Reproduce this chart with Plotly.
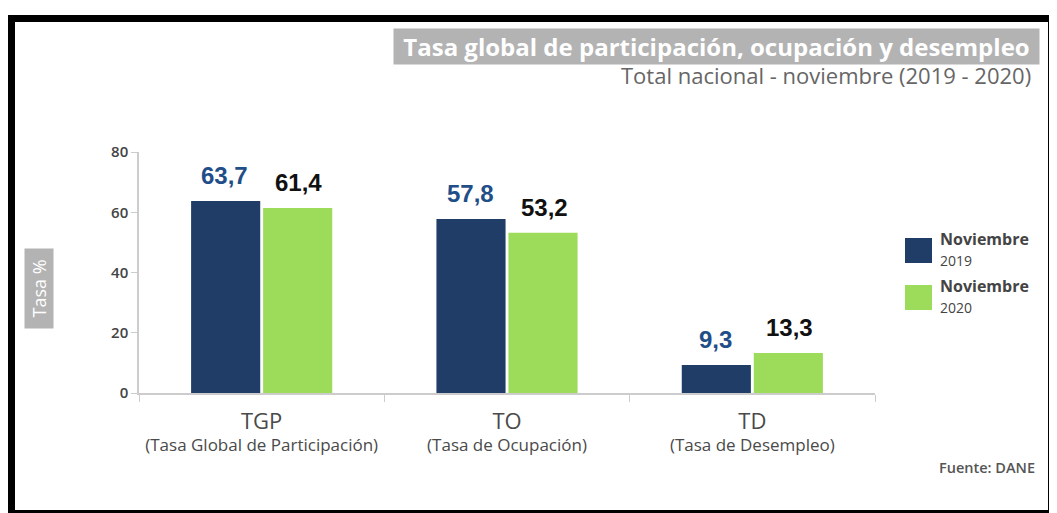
import plotly.graph_objects as go

# ---- data ----
categories = ["TGP", "TO", "TD"]
category_desc = ["(Tasa Global de Participación)", "(Tasa de Ocupación)", "(Tasa de Desempleo)"]
values_2019 = [63.7, 57.8, 9.3]
values_2020 = [61.4, 53.2, 13.3]
series_names = ["Noviembre 2019", "Noviembre 2020"]
y_ticks = [0, 20, 40, 60, 80]

BLUE = "#1f3d66"
GREEN = "#9ddb5a"
BLUE_TXT = "#1f4e88"

# page body has an 8px margin, so the figure is slightly smaller than the window
OFF = 8
W, H = 1057 - OFF, 513 - OFF
ML, MR, MT, MB = 131, 182, 144, 120
PW = W - ML - MR
PH = H - MT - MB


def px(x):
    """reference-window x pixel -> paper coordinate"""
    return (x - OFF - ML) / PW


def py(y):
    """reference-window y pixel -> paper coordinate"""
    return (H - MB - (y - OFF)) / PH


fig = go.Figure()
fig.add_trace(go.Bar(x=categories, y=values_2019, name=series_names[0],
                     marker=dict(color=BLUE, line=dict(width=0)), showlegend=False))
fig.add_trace(go.Bar(x=categories, y=values_2020, name=series_names[1],
                     marker=dict(color=GREEN, line=dict(width=0)), showlegend=False))

annotations = []
# value labels
for cat, v in zip(categories, values_2019):
    annotations.append(dict(x=cat, y=v, xref="x", yref="y", xshift=-37, yshift=10,
                            text=f"{v:.1f}".replace(".", ","), showarrow=False,
                            yanchor="bottom",
                            font=dict(family="Liberation Sans", size=24, color=BLUE_TXT, weight="bold")))
for cat, v in zip(categories, values_2020):
    annotations.append(dict(x=cat, y=v, xref="x", yref="y", xshift=37, yshift=10,
                            text=f"{v:.1f}".replace(".", ","), showarrow=False,
                            yanchor="bottom",
                            font=dict(family="Liberation Sans", size=24, color="#111111", weight="bold")))

# title
annotations.append(dict(x=px(1040), y=py(46), xref="paper", yref="paper",
                        xanchor="right", yanchor="middle", showarrow=False,
                        text="Tasa global de participación, ocupación y desempleo",
                        bgcolor="#b3b3b3", borderpad=1, width=643, align="center",
                        font=dict(family="Open Sans", size=24, color="white", weight="bold")))
annotations.append(dict(x=px(1033), y=py(75), xref="paper", yref="paper",
                        xanchor="right", yanchor="middle", showarrow=False,
                        text="Total nacional - noviembre (2019 - 2020)",
                        font=dict(family="Open Sans", size=22, color="#666666")))
# y title
annotations.append(dict(x=px(38.5), y=py(288.5), xref="paper", yref="paper",
                        xanchor="center", yanchor="middle", showarrow=False,
                        text="Tasa %", textangle=-90, bgcolor="#b3b3b3",
                        width=75, height=24, borderpad=2,
                        font=dict(family="Open Sans", size=18, color="white")))
# legend (drawn manually)
legend_cols = [BLUE, GREEN]
legend_tops = [238, 285]
shapes = []
for name, col, top in zip(series_names, legend_cols, legend_tops):
    shapes.append(dict(type="rect", xref="paper", yref="paper",
                       x0=px(905), x1=px(932), y0=py(top), y1=py(top + 25),
                       fillcolor=col, line=dict(width=0)))
    word, year = name.split(" ")
    annotations.append(dict(x=px(938), y=py(top - 12), xref="paper", yref="paper",
                            xanchor="left", yanchor="top", showarrow=False, align="left",
                            text=f"<b>{word}</b><br><span style='font-size:14px'>{year}</span>",
                            font=dict(family="Open Sans", size=16, color="#444444")))
# source
annotations.append(dict(x=px(1037), y=py(467), xref="paper", yref="paper",
                        xanchor="right", yanchor="middle", showarrow=False,
                        text="Fuente: DANE",
                        font=dict(family="Open Sans", size=14.5, color="#555555", weight=600)))

# frame
shapes += [
    dict(type="rect", xref="paper", yref="paper", x0=px(8), x1=px(1057), y0=py(22), y1=py(15),
         fillcolor="black", line=dict(width=0)),
    dict(type="rect", xref="paper", yref="paper", x0=px(8), x1=px(15), y0=py(513), y1=py(15),
         fillcolor="black", line=dict(width=0)),
    dict(type="rect", xref="paper", yref="paper", x0=px(1048), x1=px(1057), y0=py(513), y1=py(15),
         fillcolor="black", line=dict(width=0)),
    dict(type="rect", xref="paper", yref="paper", x0=px(8), x1=px(1057), y0=py(513), y1=py(510),
         fillcolor="black", line=dict(width=0)),
]

tick_text = [f"<span style='font-size:22px'>{c}</span><br><span style='font-size:17px'>{d}</span>"
             for c, d in zip(categories, category_desc)]

fig.update_layout(
    width=W, height=H,
    margin=dict(l=ML, r=MR, t=MT, b=MB, autoexpand=False),
    paper_bgcolor="white", plot_bgcolor="white",
    barmode="group", bargap=0.413, bargroupgap=0.04,
    font=dict(family="Open Sans", color="#444444"),
    annotations=annotations, shapes=shapes,
    showlegend=False,
    xaxis=dict(tickmode="array", tickvals=categories, ticktext=tick_text,
               tickson="boundaries", ticks="outside", ticklen=7, tickcolor="#cccccc",
               ticklabelstandoff=14, tickangle=0, automargin=False,
               showline=True, linecolor="#cccccc", linewidth=1.5,
               tickfont=dict(family="Open Sans", size=17, color="#4a4a4a"),
               showgrid=False, fixedrange=True),
    yaxis=dict(range=[0, 80], tickvals=y_ticks, ticks="outside", ticklen=6, tickcolor="#cccccc",
               showline=True, linecolor="#cccccc", linewidth=1.5, showgrid=False, zeroline=False,
               automargin=False,
               tickfont=dict(family="Open Sans", size=15, color="#444444", weight=600),
               fixedrange=True),
)

fig.write_html("out.html")
